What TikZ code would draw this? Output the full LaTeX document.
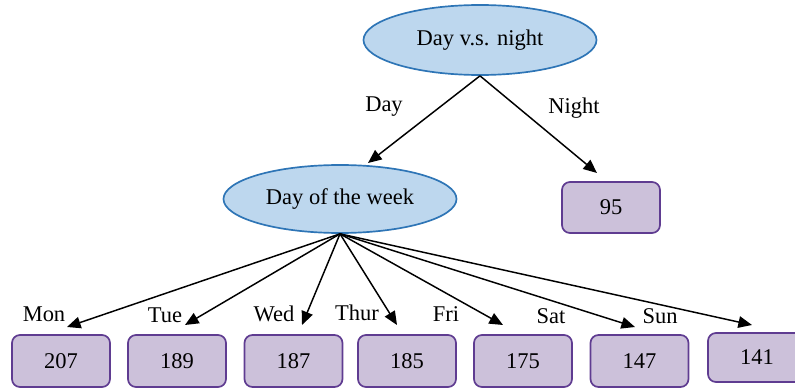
\documentclass[tikz,border=0pt]{standalone}
\usepackage{fontspec}
\setmainfont{Liberation Serif}
\definecolor{splitblue}{HTML}{BDD7EE}
\definecolor{splitedge}{HTML}{2E75B6}
\definecolor{leafpurple}{HTML}{CCC1DA}
\definecolor{leafedge}{HTML}{5F3C91}
\usepackage{tikz}
\usetikzlibrary{
  positioning, shapes.geometric, arrows.meta
}
\tikzset{
	splitnode/.style={
			shape=ellipse,
			draw=splitedge,
			fill=splitblue,
			line width=1.2pt,
			minimum width=58.25mm,
			minimum height=17mm,
			inner sep=0pt
		},
	leafnode/.style={
			shape=rectangle,
			rounded corners=2mm,
			draw=leafedge,
			fill=leafpurple,
			line width=1.2pt,
			minimum width=24.5mm,
			minimum height=13mm,
			inner sep=0pt
		},
	branch/.style={
			draw=black,
			line width=1.05pt,
			-{Triangle[length=3.4mm,width=2.9mm]}
		}
}
\tikzset{
	edgetext/.style={font=\fontsize{16pt}{18pt}\selectfont, inner sep=0pt}
}

\begin{document}
\begin{tikzpicture}[every node/.append style={font=\fontsize{16pt}{18pt}\selectfont}]

  \useasboundingbox (0,0) rectangle (19.875,-9.7);

  \node[splitnode, minimum height=17.5mm] (root) at (12.0,-1.0) {Day v.s. night};
  \node[splitnode] (week) at (8.5,-4.975) {Day of the week};
  \node[leafnode, minimum height=12.75mm] (night) at (15.275,-5.1875) {95};

  \node[leafnode] (mon) at (1.525,-9.025) {207};
  \node[leafnode] (tue) at (4.425,-9.025) {189};
  \node[leafnode] (wed) at (7.3375,-9.025) {187};
  \node[leafnode] (thu) at (10.175,-9.025) {185};
  \node[leafnode] (fri) at (13.075,-9.025) {175};
  \node[leafnode] (sat) at (15.9875,-9.025) {147};
  \node[leafnode, minimum height=12.25mm] (sun) at (18.925,-8.9375) {141};

  % arrow tips stop short of the boxes
  \coordinate (tday) at (9.2,-4.075);
  \coordinate (tnight) at (14.925,-4.325);
  \coordinate (tmon) at (1.675,-8.175);
  \coordinate (ttue) at (4.625,-8.125);
  \coordinate (twed) at (7.55,-8.125);
  \coordinate (tthu) at (9.925,-8.125);
  \coordinate (tfri) at (12.575,-8.125);
  \coordinate (tsat) at (15.875,-8.175);
  \coordinate (tsun) at (18.8,-8.125);

  \draw[branch] (root.south) -- (tday);
  \draw[branch] (root.south) -- (tnight);
  \foreach \t in {tmon,ttue,twed,tthu,tfri,tsat,tsun}
    \draw[branch] (week.south) -- (\t);

  \node[edgetext] (lday) at (9.6,-2.675) {Day};
  \node[edgetext] (lnight) at (14.35,-2.7) {Night};
  \node[edgetext] (lmon) at (1.1,-7.85) {Mon};
  \node[edgetext] (ltue) at (4.125,-7.875) {Tue};
  \node[edgetext] (lwed) at (6.85,-7.85) {Wed};
  \node[edgetext] (lthu) at (8.925,-7.825) {Thur};
  \node[edgetext] (lfri) at (11.15,-7.85) {Fri};
  \node[edgetext] (lsat) at (13.775,-7.9) {Sat};
  \node[edgetext] (lsun) at (16.5,-7.9) {Sun};

\end{tikzpicture}
\end{document}
